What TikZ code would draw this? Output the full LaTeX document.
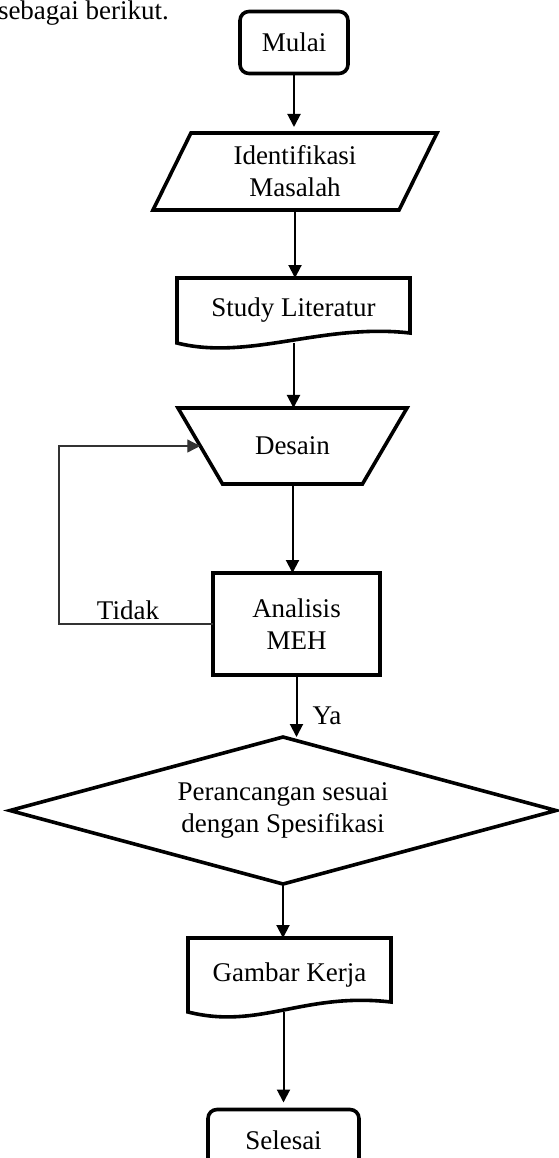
\documentclass[tikz,border=0pt]{standalone}
\usepackage{fontspec}
\setmainfont{Liberation Serif}
\usetikzlibrary{shapes.geometric,arrows.meta}
\newcommand{\dokumen}[1]{\draw[shp] (#1.south west) -- (#1.north west) --
  (#1.north east) -- ([yshift=5pt]#1.south east) .. controls
  ([xshift=-44pt,yshift=10pt]#1.south east) and ([xshift=36pt,yshift=-9pt]#1.south
  west) .. (#1.south west) -- cycle;}
\begin{document}
\begin{tikzpicture}[x=0.5pt,y=-0.5pt,%
        every node/.style={font=\fontsize{13.5}{16}\selectfont,align=center,
          inner sep=0pt,outer sep=0pt}, shp/.style={draw=black,line
          width=1.8pt}, term/.style={shp,rounded corners=4.5pt,minimum
          height=31pt}, io/.style={shp,trapezium,trapezium left angle=53.5,
          trapezium right angle=126.5,trapezium stretches body=true,minimum
          width=142pt,minimum height=38.5pt}, man/.style={shp,trapezium,
          trapezium left angle=120.6,trapezium right angle=120.6,trapezium
          stretches body=true,inner ysep=14.3pt,minimum width=114.5pt,minimum
          height=38pt},
        proc/.style={shp,minimum width=83.5pt,minimum height=51pt},
        dec/.style={shp,diamond,aspect=3.7,minimum width=273pt,minimum
          height=73.5pt},
        arr/.style={-{Triangle[width=6.5pt,length=6.5pt]},line width=1pt},
        fb/.style={-{Triangle[width=6.5pt,length=6.5pt]},draw=black!80,line
          width=0.6pt}]%
        \useasboundingbox (0,0) rectangle (558,1158);
        \node[anchor=base west] (kalimat) at (-2,19) {sebagai berikut.};
        \node[term,minimum width=54pt] (mulai) at (294,42.5) {Mulai}; \node[io]
        (ident) at (295,171.5) {Identifikasi\\Masalah}; \node[minimum
        width=116.5pt,minimum height=32.5pt] (study) at (293.5,310.5) {Study
          Literatur}; \node[man] (desain) at (292.5,446) {Desain};
        \node[proc] (analisis) at (296.5,624) {Analisis\\MEH}; \node[dec]
        (cek) at (283,810.5) {Perancangan sesuai\\dengan Spesifikasi};
        \node[minimum width=101.5pt,minimum height=37pt] (gambar) at
        (289.5,975) {Gambar Kerja}; \node[term,minimum width=75.5pt]
        (selesai) at (283.5,1140.5) {Selesai};
        \dokumen{study} \dokumen{gambar}
        \coordinate (balik) at (59,624);
        \draw[arr,shorten >=3pt] (mulai.south) -- (mulai.south |- ident.north);
        \draw[arr] (ident.south) -- (ident.south |- study.north);
        \draw[arr] (study.south) -- (study.south |- desain.north);
        \draw[arr] (desain.south) -- (desain.south |- analisis.north);
        \draw[arr] (analisis.south) -- (analisis.south |- cek.north)
        node[pos=0.66,anchor=west,xshift=8pt] (ya) {Ya};
        \draw[arr] (cek.south) -- (cek.south |- gambar.north);
        \draw[arr,shorten >=3.5pt] (gambar.south -| selesai.north) -- (selesai.north);
        \draw[fb] (analisis.west) -- (analisis.west -| balik) |- (desain.west);
        \node[anchor=base] (tidak) at (128,619) {Tidak};
      \end{tikzpicture}
\end{document}
